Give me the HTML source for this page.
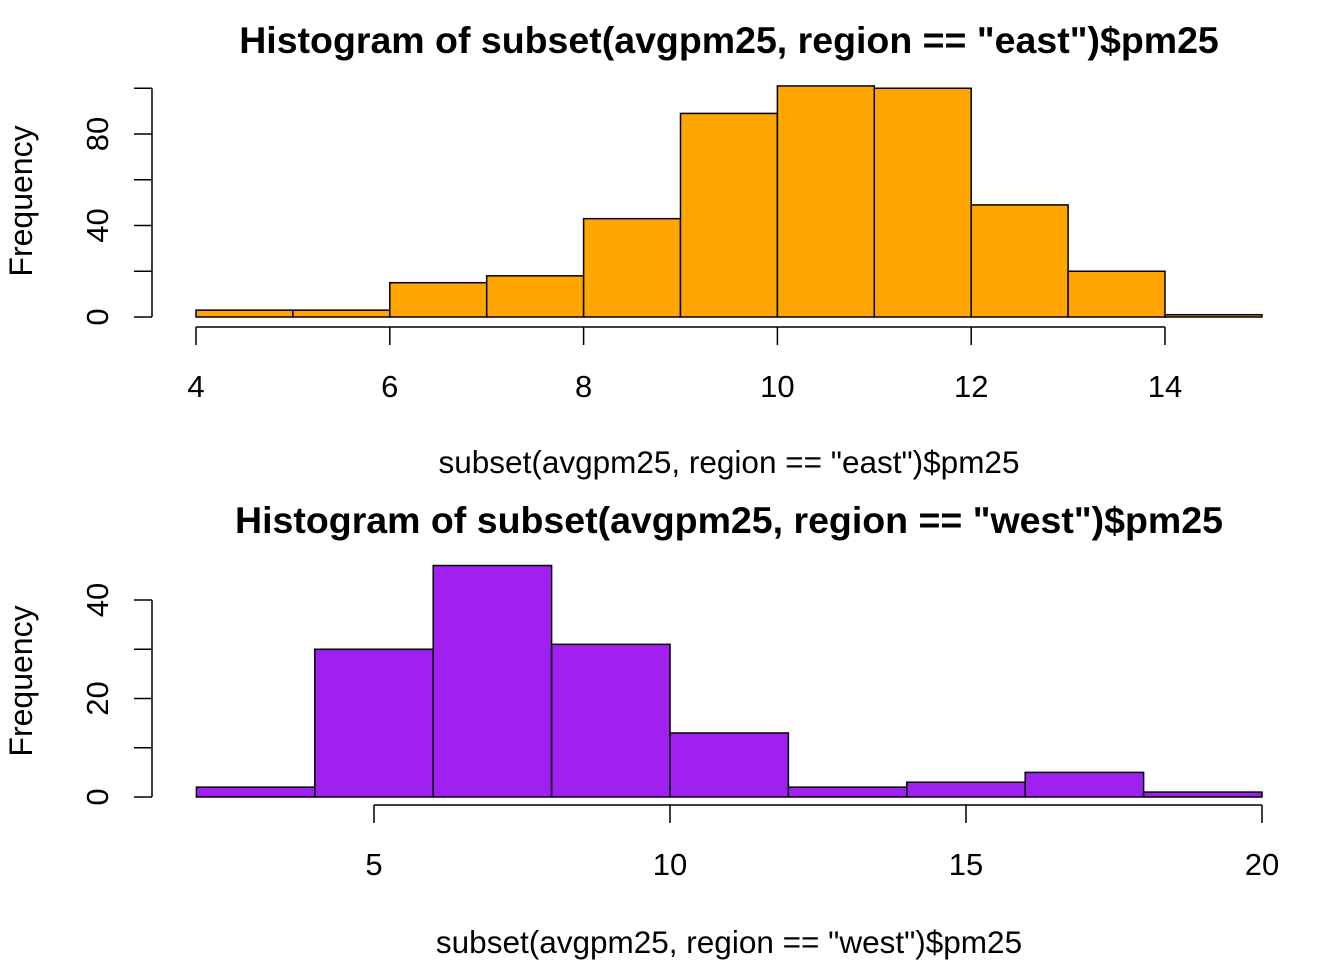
<!DOCTYPE html>
<html><head><meta charset="utf-8"><style>
html,body{margin:0;padding:0;background:#fff;}
svg{display:block;font-family:"Liberation Sans",Arial,sans-serif;}
</style></head><body>
<svg id="chart" width="1344" height="960" viewBox="0 0 1344 960"></svg>
<script>
// East histogram data
const eastBreaks = [4,5,6,7,8,9,10,11,12,13,14,15];
const eastCounts = [3,3,15,18,43,89,101,100,49,20,1];
const eastXTicks = [4,6,8,10,12,14];
const eastYTicks = [0,20,40,60,80,100];
const eastYLabels = [0,40,80];
// West histogram data
const westBreaks = [2,4,6,8,10,12,14,16,18,20];
const westCounts = [2,30,47,31,13,2,3,5,1];
const westXTicks = [5,10,15,20];
const westYTicks = [0,10,20,30,40];
const westYLabels = [0,20,40];

const NS="http://www.w3.org/2000/svg";
const svg=document.getElementById('chart');
function mk(tag,attrs,parent){const e=document.createElementNS(NS,tag);for(const k in attrs)e.setAttribute(k,attrs[k]);(parent||svg).appendChild(e);return e;}

function panel(cfg){
  const g=mk('g',{});
  
  
  const xs=v=>cfg.x0+(v-cfg.xa)*(cfg.x1-cfg.x0)/(cfg.xb-cfg.xa);
  const ys=v=>cfg.y0-v*cfg.ppu;
  cfg.counts.forEach((c,i)=>{
    const xl=xs(cfg.breaks[i]),xr=xs(cfg.breaks[i+1]);
    const r=mk('rect',{x:xl,y:ys(c),width:xr-xl,height:ys(0)-ys(c),fill:cfg.color,stroke:'#000','stroke-width':1.5},g);
    
    
  });
  const ya=mk('g',{},g);
  
  
  const yt=cfg.yTicks;
  mk('line',{x1:152,x2:152,y1:ys(yt[0]),y2:ys(yt[yt.length-1]),stroke:'#000','stroke-width':1.5},ya);
  yt.forEach(v=>mk('line',{x1:134,x2:152,y1:ys(v),y2:ys(v),stroke:'#000','stroke-width':1.5},ya));
  cfg.yLabels.forEach(v=>{
    const t=mk('text',{x:108,y:ys(v),'font-size':31,'text-anchor':'middle',transform:`rotate(-90 108 ${ys(v)})`},ya);
    t.textContent=v;
  });
  const xa=mk('g',{},g);
  
  
  const xt=cfg.xTicks;
  mk('line',{x1:xs(xt[0]),x2:xs(xt[xt.length-1]),y1:cfg.axY,y2:cfg.axY,stroke:'#000','stroke-width':1.5},xa);
  xt.forEach(v=>{
    mk('line',{x1:xs(v),x2:xs(v),y1:cfg.axY,y2:cfg.axY+18,stroke:'#000','stroke-width':1.5},xa);
    const t=mk('text',{x:xs(v),y:cfg.axY+70,'font-size':31,'text-anchor':'middle'},xa);
    t.textContent=v;
  });
  const title=mk('text',{x:729,y:cfg.titleY,'font-size':37.5,'font-weight':'bold','text-anchor':'middle'},g);
  title.textContent=cfg.title;
  
  const xl=mk('text',{x:729,y:cfg.xlabY,'font-size':31.5,'text-anchor':'middle'},g);
  xl.textContent=cfg.xlab;
  
  const yl=mk('text',{x:32,y:cfg.ylabC,'font-size':32,'text-anchor':'middle',transform:`rotate(-90 32 ${cfg.ylabC})`},g);
  yl.textContent='Frequency';
  
}
panel({name:'east',breaks:eastBreaks,counts:eastCounts,xTicks:eastXTicks,yTicks:eastYTicks,yLabels:eastYLabels,
  color:'#FFA500',x0:196,x1:1165,xa:4,xb:14,y0:317,ppu:2.2875,axY:327,titleY:53,xlabY:473,ylabC:201,
  title:'Histogram of subset(avgpm25, region == "east")$pm25',xlab:'subset(avgpm25, region == "east")$pm25'});
panel({name:'west',breaks:westBreaks,counts:westCounts,xTicks:westXTicks,yTicks:westYTicks,yLabels:westYLabels,
  color:'#A020F0',x0:374,x1:1262,xa:5,xb:20,y0:797,ppu:4.925,axY:805,titleY:533,xlabY:953,ylabC:681,
  title:'Histogram of subset(avgpm25, region == "west")$pm25',xlab:'subset(avgpm25, region == "west")$pm25'});
</script>
</body></html>
